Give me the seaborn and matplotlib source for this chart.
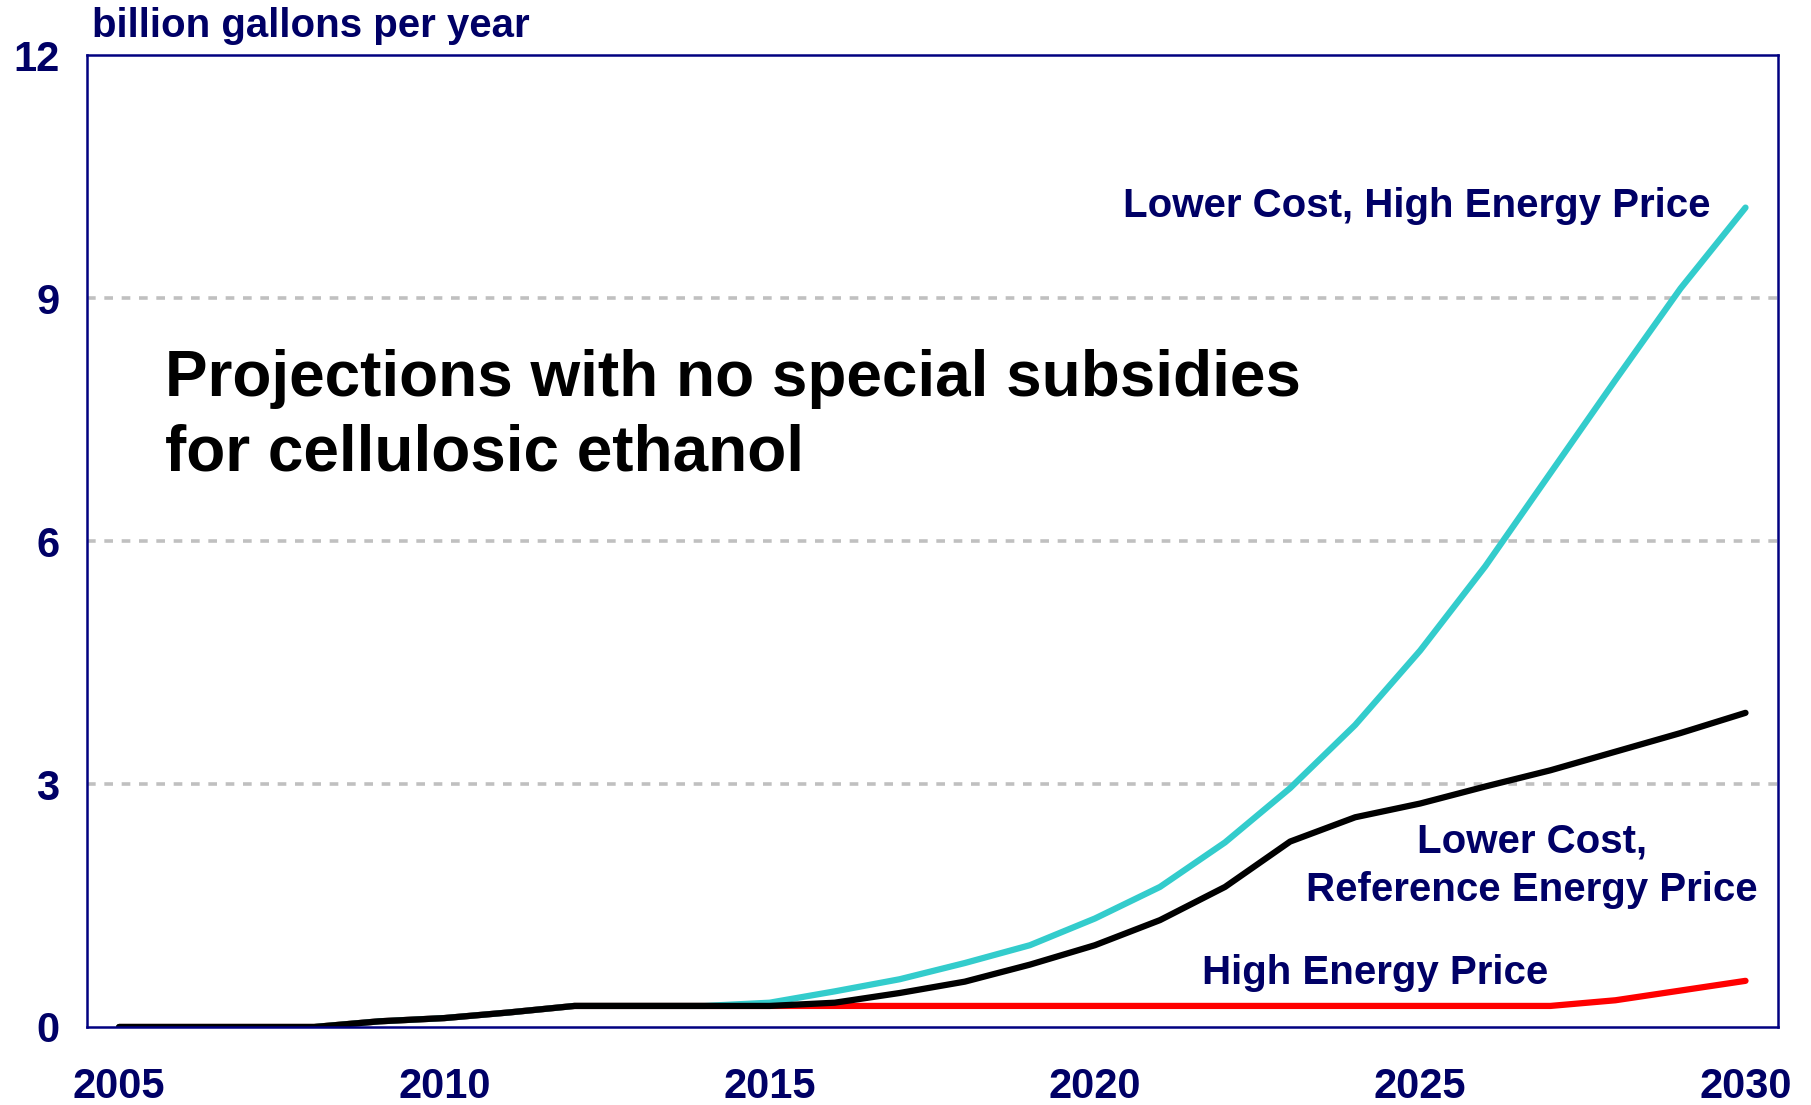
import numpy as np
import pandas as pd
import matplotlib
matplotlib.use("Agg")
import matplotlib.pyplot as plt
import seaborn as sns

years = list(range(2005, 2031))
high_energy_price = [0, 0, 0, 0, 0.07, 0.11, 0.18, 0.26, 0.26, 0.26, 0.26, 0.26, 0.26,
                     0.26, 0.26, 0.26, 0.26, 0.26, 0.26, 0.26, 0.26, 0.26, 0.26, 0.33, 0.45, 0.57]
lower_cost_high_price = [0, 0, 0, 0, 0.07, 0.11, 0.18, 0.26, 0.26, 0.26, 0.30, 0.44, 0.59,
                         0.79, 1.01, 1.34, 1.73, 2.28, 2.95, 3.73, 4.65, 5.69, 6.84, 7.99, 9.12, 10.12]
lower_cost_ref_price = [0, 0, 0, 0, 0.07, 0.11, 0.18, 0.26, 0.26, 0.26, 0.26, 0.30, 0.42,
                        0.56, 0.77, 1.01, 1.32, 1.73, 2.29, 2.59, 2.76, 2.97, 3.17, 3.40, 3.63, 3.88]

series_names = ["High Energy Price", "Lower Cost, High Energy Price",
                "Lower Cost, Reference Energy Price"]
series_colors = ["#FF0000", "#33CCCC", "#000000"]
y_ticks = [0, 3, 6, 9, 12]
x_label_years = [2005, 2010, 2015, 2020, 2025, 2030]

df = pd.concat([
    pd.DataFrame({"year": years, "value": high_energy_price, "scenario": series_names[0]}),
    pd.DataFrame({"year": years, "value": lower_cost_high_price, "scenario": series_names[1]}),
    pd.DataFrame({"year": years, "value": lower_cost_ref_price, "scenario": series_names[2]}),
])

navy_text = "#000066"
navy_axis = "#000080"

sns.set_style("white")
plt.rcParams["font.family"] = ["Liberation Sans", "DejaVu Sans"]

fig = plt.figure(figsize=(18.11, 11.05), dpi=100)
ax = fig.add_axes([0.0478, 0.0706, 0.9340, 0.8793])

sns.lineplot(data=df, x="year", y="value", hue="scenario", hue_order=series_names,
             palette=series_colors, estimator=None, sort=False, linewidth=4.5,
             legend=False, ax=ax, solid_capstyle="round", solid_joinstyle="round")

ax.set_xlim(2004.5, 2030.5)
ax.set_ylim(0, 12)

# y axis
ax.set_yticks(y_ticks)
ax.set_yticklabels([str(v) for v in y_ticks])
ax.tick_params(axis="y", which="major", direction="out", length=9.5, width=1.8,
               color=navy_axis, pad=10, labelsize=30, labelcolor=navy_text)
for lab in ax.get_yticklabels():
    lab.set_fontweight("bold")

# x axis: tick marks between categories, labels at category centers
ax.set_xticks(x_label_years)
ax.set_xticklabels([str(y) for y in x_label_years])
ax.set_xticks(np.arange(2004.5, 2031.0, 1.0), minor=True)
ax.tick_params(axis="x", which="major", length=0, pad=29, labelsize=30, labelcolor=navy_text)
ax.tick_params(axis="x", which="minor", direction="out", length=8, width=1.8, color=navy_axis)
for lab in ax.get_xticklabels():
    lab.set_fontweight("bold")

# gridlines
for v in [3, 6, 9]:
    ax.axhline(v, color="#C0C0C0", linewidth=2.6, linestyle=(0, (2.4, 2.4)), zorder=0)

for s in ax.spines.values():
    s.set_visible(True)
    s.set_color(navy_axis)
    s.set_linewidth(1.8)

ax.set_xlabel("")
ax.set_ylabel("")

fig.text(92 / 1811, 1 - 37 / 1105, "billion gallons per year", fontsize=29,
         fontweight="bold", color=navy_text, ha="left", va="baseline")

ax.text(0.0463, 1 - (396 - 55.4) / 971.6, "Projections with no special subsidies",
        transform=ax.transAxes, fontsize=46, fontweight="bold", color="black",
        ha="left", va="baseline")
ax.text(0.0463, 1 - (471 - 55.4) / 971.6, "for cellulosic ethanol",
        transform=ax.transAxes, fontsize=46, fontweight="bold", color="black",
        ha="left", va="baseline")

ax.text(2029.46, 10.0, "Lower Cost, High Energy Price",
        fontsize=29, fontweight="bold", color=navy_text, ha="right", va="baseline")
ax.text(2026.72, 2.16, "Lower Cost,", fontsize=29, fontweight="bold", color=navy_text,
        ha="center", va="baseline")
ax.text(2026.72, 1.56, "Reference Energy Price", fontsize=29, fontweight="bold",
        color=navy_text, ha="center", va="baseline")
ax.text(2024.3, 0.53, "High Energy Price", fontsize=29, fontweight="bold",
        color=navy_text, ha="center", va="baseline")

fig.savefig("out.png", dpi=100)
